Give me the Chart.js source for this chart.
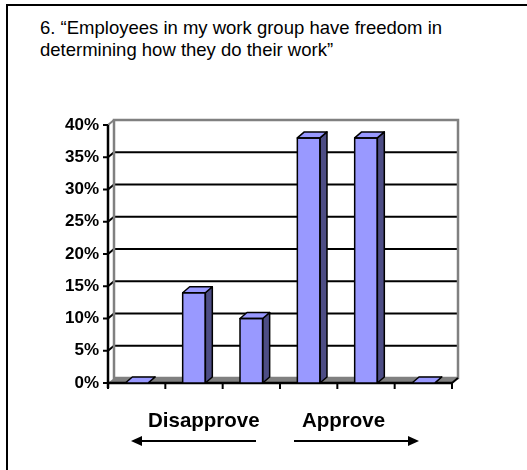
<!DOCTYPE html>
<html>
<head>
<meta charset="utf-8">
<script src="https://cdn.jsdelivr.net/npm/chart.js@4/dist/chart.umd.min.js"></script>
<style>
  html, body { margin: 0; padding: 0; background: #fff; width: 527px; height: 470px; overflow: hidden; }
  #frame { position: absolute; left: 6px; top: 4px; width: 700px; height: 700px; border: 2px solid #000; box-sizing: border-box; }
  #wrap { position: absolute; left: 0; top: 0; width: 527px; height: 470px; }
  .title { position: absolute; left: 40px; top: 17px; font: 18.5px "Liberation Sans", Arial, sans-serif; line-height: 22px; color: #000; white-space: nowrap; }
  .dir { position: absolute; top: 408px; font: bold 20.5px "Liberation Sans", Arial, sans-serif; line-height: 24px; color: #000; white-space: nowrap; }
  svg.arrows { position: absolute; left: 0; top: 0; }
</style>
</head>
<body>
<div id="frame"></div>
<div class="title">6. “Employees in my work group have freedom in<br>determining how they do their work”</div>
<div id="wrap"><canvas id="chart"></canvas></div>
<div class="dir" style="left:148px">Disapprove</div>
<div class="dir" style="left:302px">Approve</div>
<svg class="arrows" width="527" height="470">
  <line x1="140" y1="441" x2="256" y2="441" stroke="#000" stroke-width="2"/>
  <polygon points="131,441 142,436 142,446" fill="#000"/>
  <line x1="294" y1="441" x2="410" y2="441" stroke="#000" stroke-width="2"/>
  <polygon points="419,441 408,436 408,446" fill="#000"/>
</svg>
<script>
// Six-point response scale, share of respondents (%)
const categories = ['1', '2', '3', '4', '5', '6'];
const percentValues = [0, 14, 10, 38, 38, 0];
const yTickValues = [0, 5, 10, 15, 20, 25, 30, 35, 40];
const yTickLabels = ['0%', '5%', '10%', '15%', '20%', '25%', '30%', '35%', '40%'];

const FRONT = '#9999FF';
const SIDE = '#4D4D85';
const WALL_EDGE = '#808080';
const FLOOR = '#808080';

// Depth offsets for the pseudo-3D walls and the bar blocks
const WALL_DX = 6, WALL_DY = -5;
const BAR_DX = 7, BAR_DY = -6;

function poly(ctx, pts, fill, stroke, lw) {
  ctx.beginPath();
  ctx.moveTo(pts[0][0], pts[0][1]);
  for (let i = 1; i < pts.length; i++) ctx.lineTo(pts[i][0], pts[i][1]);
  ctx.closePath();
  if (fill) { ctx.fillStyle = fill; ctx.fill(); }
  if (stroke) { ctx.strokeStyle = stroke; ctx.lineWidth = lw; ctx.stroke(); }
}
function seg(ctx, x1, y1, x2, y2, color, lw) {
  ctx.beginPath();
  ctx.moveTo(x1, y1);
  ctx.lineTo(x2, y2);
  ctx.strokeStyle = color;
  ctx.lineWidth = lw;
  ctx.stroke();
}

const box3d = {
  id: 'box3d',
  beforeDatasetsDraw(chart) {
    const { ctx, chartArea: { left, right }, scales: { x, y } } = chart;
    const yMin = yTickValues[0], yMax = yTickValues[yTickValues.length - 1];
    const bottom = y.getPixelForValue(yMin);
    const top = y.getPixelForValue(yMax);
    ctx.save();
    ctx.lineCap = 'butt';

    // back wall
    poly(ctx, [[left + WALL_DX, top + WALL_DY], [right + WALL_DX, top + WALL_DY],
               [right + WALL_DX, bottom + WALL_DY], [left + WALL_DX, bottom + WALL_DY]], '#fff');

    // gridlines on the back wall and along the left side wall
    yTickValues.forEach(v => {
      if (v === yMin || v === yMax) return;
      const py = y.getPixelForValue(v);
      seg(ctx, left + WALL_DX, py + WALL_DY, right + WALL_DX, py + WALL_DY, '#000', 2);
      seg(ctx, left, py, left + WALL_DX, py + WALL_DY, '#000', 2);
    });

    // wall outline
    ctx.lineJoin = 'miter';
    poly(ctx, [[left + WALL_DX, bottom + WALL_DY], [left + WALL_DX, top + WALL_DY],
               [right + WALL_DX, top + WALL_DY], [right + WALL_DX, bottom + WALL_DY]], null, WALL_EDGE, 2.5);
    seg(ctx, left, top, left + WALL_DX, top + WALL_DY, WALL_EDGE, 2);

    // floor
    poly(ctx, [[left, bottom], [right, bottom], [right + WALL_DX, bottom + WALL_DY], [left + WALL_DX, bottom + WALL_DY]], FLOOR);
    seg(ctx, right, bottom, right + WALL_DX, bottom + WALL_DY, '#000', 2);

    // value axis with outward ticks
    seg(ctx, left, top, left, bottom + 5, '#000', 2.5);
    yTickValues.forEach(v => {
      const py = y.getPixelForValue(v);
      seg(ctx, left - 5, py, left, py, '#000', 2);
    });

    // category axis with ticks at the category boundaries
    seg(ctx, left, bottom, right, bottom, '#000', 2.5);
    const half = (right - left) / categories.length / 2;
    categories.forEach((c, i) => {
      const cx = x.getPixelForValue(i);
      seg(ctx, cx - half, bottom, cx - half, bottom + 6, '#000', 2);
      if (i === categories.length - 1) seg(ctx, cx + half, bottom, cx + half, bottom + 6, '#000', 2);
    });
    ctx.restore();
  },
  afterDatasetsDraw(chart) {
    const { ctx } = chart;
    const meta = chart.getDatasetMeta(0);
    ctx.save();
    ctx.lineJoin = 'round';
    meta.data.forEach(bar => {
      const p = bar.getProps(['x', 'y', 'base', 'width'], true);
      const l = p.x - p.width / 2, r = p.x + p.width / 2;
      // side face
      poly(ctx, [[r, p.y], [r + BAR_DX, p.y + BAR_DY], [r + BAR_DX, p.base + BAR_DY], [r, p.base]], SIDE, '#000', 1.5);
      // top face
      poly(ctx, [[l, p.y], [r, p.y], [r + BAR_DX, p.y + BAR_DY], [l + BAR_DX, p.y + BAR_DY]], FRONT, '#000', 1.5);
      // front face outline
      if (p.base - p.y > 0.5) poly(ctx, [[l, p.y], [r, p.y], [r, p.base], [l, p.base]], null, '#000', 1.5);
    });
    ctx.restore();
  }
};

new Chart(document.getElementById('chart'), {
  type: 'bar',
  data: {
    labels: categories,
    datasets: [{
      data: percentValues,
      backgroundColor: FRONT,
      borderWidth: 0,
      categoryPercentage: 1,
      barPercentage: 0.395
    }]
  },
  options: {
    responsive: true,
    maintainAspectRatio: false,
    animation: false,
    layout: { padding: { left: 60, right: 75, top: 125, bottom: 87 } },
    plugins: { legend: { display: false }, tooltip: { enabled: false }, title: { display: false } },
    scales: {
      x: { display: false },
      y: {
        min: yTickValues[0],
        max: yTickValues[yTickValues.length - 1],
        afterFit(scale) { scale.width = 48; },
        afterBuildTicks(scale) { scale.ticks = yTickValues.map(v => ({ value: v })); },
        ticks: {
          padding: 9,
          color: '#000',
          font: { family: '"Liberation Sans", Arial, sans-serif', size: 17, weight: 'bold' },
          callback: (v) => yTickLabels[yTickValues.indexOf(v)]
        },
        grid: { display: false, drawTicks: false, tickLength: 0 },
        border: { display: false }
      }
    }
  },
  plugins: [box3d]
});
</script>
</body>
</html>
